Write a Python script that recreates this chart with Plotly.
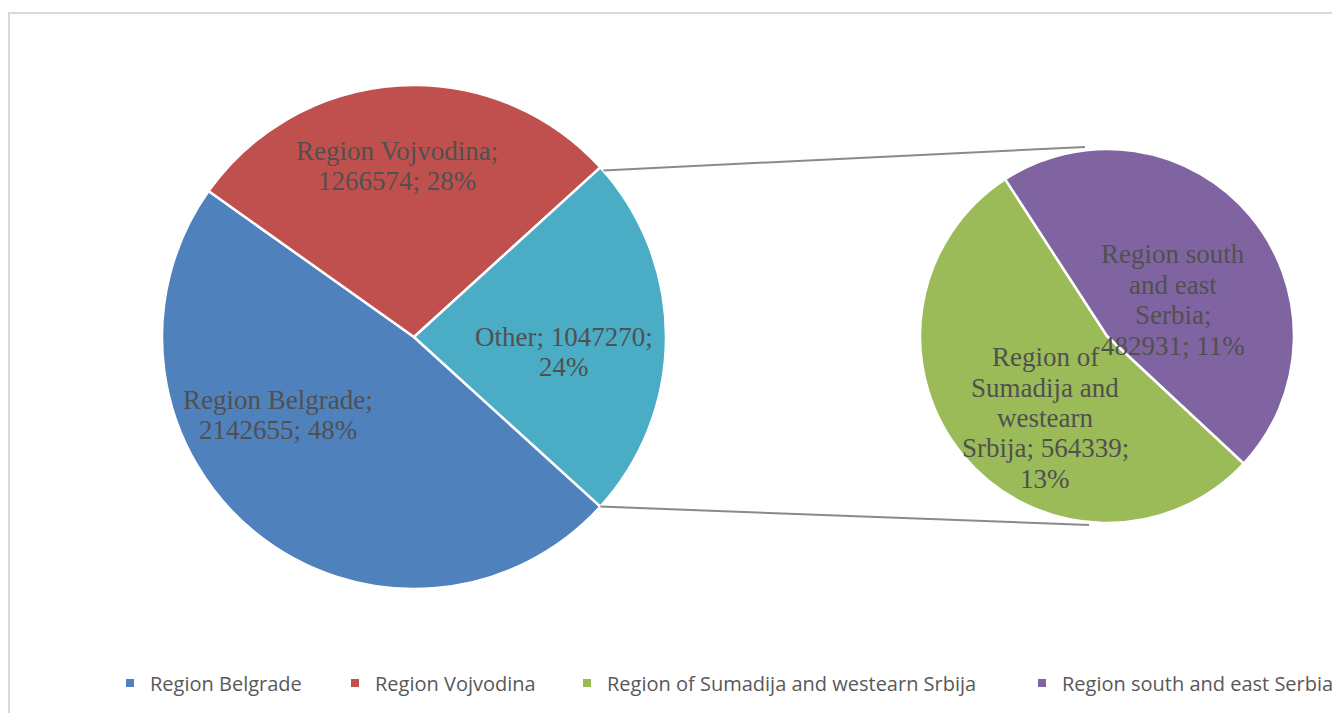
import math
import textwrap
import plotly.graph_objects as go

# ---------------- data ----------------
main_labels = ["Region Belgrade", "Region Vojvodina", "Other"]
main_values = [2142655, 1266574, 1047270]
main_pct = [48, 28, 24]

sec_labels = ["Region of Sumadija and westearn Srbija", "Region south and east Serbia"]
sec_values = [564339, 482931]
sec_pct = [13, 11]

legend_labels = ["Region Belgrade", "Region Vojvodina",
                 "Region of Sumadija and westearn Srbija", "Region south and east Serbia"]

# ---------------- style ----------------
OFF_X, OFF_Y = 8, 8      # page margin around the plot div
W, H = 1340 - OFF_X, 713 - OFF_Y
main_colors = ["#4F81BD", "#C0504D", "#4BACC6"]
sec_colors = ["#9BBB59", "#8064A2"]
legend_colors = ["#4F81BD", "#C0504D", "#9BBB59", "#8064A2"]
label_color = "#505050"
serif = "Liberation Serif, Times New Roman, serif"
sans = "Open Sans, Arial, sans-serif"


def px_x(x):
    return (x - OFF_X) / W


def px_y(y):
    return 1 - (y - OFF_Y) / H


# pie geometry (screen pixels)
main_c, main_r = (414, 337), 252
sec_c, sec_r = (1107, 336), 187

total = sum(main_values)
other_frac = main_values[2] / total
main_rotation = 90 + other_frac * 180          # "Other" centred at 3 o'clock
sec_rotation = 133

fig = go.Figure()

fig.add_trace(go.Pie(
    labels=main_labels, values=main_values, sort=False, direction="clockwise",
    rotation=main_rotation, marker=dict(colors=main_colors, line=dict(color="white", width=2.5)),
    textinfo="none", showlegend=False,
    domain=dict(x=[px_x(main_c[0] - main_r), px_x(main_c[0] + main_r)],
                y=[px_y(main_c[1] + main_r), px_y(main_c[1] - main_r)]),
))
fig.add_trace(go.Pie(
    labels=sec_labels, values=sec_values, sort=False, direction="clockwise",
    rotation=sec_rotation, marker=dict(colors=sec_colors, line=dict(color="white", width=2.5)),
    textinfo="none", showlegend=False,
    domain=dict(x=[px_x(sec_c[0] - sec_r), px_x(sec_c[0] + sec_r)],
                y=[px_y(sec_c[1] + sec_r), px_y(sec_c[1] - sec_r)]),
))

# legend entries (each in its own legend to reproduce spacing)
legend_x = [131, 356, 588, 1043]
legend_ids = ["legend", "legend2", "legend3", "legend4"]
for name, col, lid in zip(legend_labels, legend_colors, legend_ids):
    fig.add_trace(go.Scatter(x=[None], y=[None], mode="markers", name=name,
                             marker=dict(symbol="square", size=8, color=col),
                             legend=lid, showlegend=True))

# data labels, one annotation per wrapped line
label_specs = [
    # label, value, pct, wrap width, centre px
    (main_labels[0], main_values[0], main_pct[0], 16, (278, 415)),
    (main_labels[1], main_values[1], main_pct[1], 17, (397, 166)),
    (main_labels[2], main_values[2], main_pct[2], 15, (564, 352)),
    (sec_labels[0], sec_values[0], sec_pct[0], 15, (1045, 418)),
    (sec_labels[1], sec_values[1], sec_pct[1], 12, (1173, 300)),
]
line_h = 30.5
annotations = []
for lab, val, pct, wrap, (cx, cy) in label_specs:
    lines = textwrap.wrap(f"{lab}; {val}; {pct}%", wrap)
    n = len(lines)
    for i, ln in enumerate(lines):
        yy = cy + (i - (n - 1) / 2) * line_h
        annotations.append(dict(text=ln, x=px_x(cx), y=px_y(yy), xref="paper", yref="paper",
                                xanchor="center", yanchor="middle", showarrow=False,
                                font=dict(family=serif, size=27, color=label_color)))

# connector lines from "Other" slice edges to secondary pie
a_top = math.radians(main_rotation - other_frac * 360)
a_bot = math.radians(main_rotation)
p_top = (main_c[0] + main_r * math.sin(a_top) + 3, main_c[1] - main_r * math.cos(a_top) + 3)
p_bot = (main_c[0] + main_r * math.sin(a_bot), main_c[1] - main_r * math.cos(a_bot))
q_top = (sec_c[0] - 22, sec_c[1] - sec_r - 2)
q_bot = (sec_c[0] - 18, sec_c[1] + sec_r + 2)

shapes = [
    dict(type="line", xref="paper", yref="paper", x0=px_x(p_top[0]), y0=px_y(p_top[1]),
         x1=px_x(q_top[0]), y1=px_y(q_top[1]), line=dict(color="#8A8A8A", width=2)),
    dict(type="line", xref="paper", yref="paper", x0=px_x(p_bot[0]), y0=px_y(p_bot[1]),
         x1=px_x(q_bot[0]), y1=px_y(q_bot[1]), line=dict(color="#8A8A8A", width=2)),
    dict(type="rect", xref="paper", yref="paper", x0=px_x(9), y0=px_y(760),
         x1=px_x(1400), y1=px_y(13), line=dict(color="#D9D9D9", width=2), layer="below"),
]

legend_common = dict(orientation="h", yanchor="middle", xanchor="left", y=px_y(683),
                     bgcolor="rgba(0,0,0,0)", borderwidth=0,
                     font=dict(family=sans, size=20, color="#595959"))
layout_legends = {}
for lid, lx in zip(legend_ids, legend_x):
    layout_legends[lid] = dict(legend_common, x=px_x(lx - 21))

fig.update_layout(
    width=W, height=H,
    margin=dict(l=0, r=0, t=0, b=0),
    paper_bgcolor="white", plot_bgcolor="white",
    xaxis=dict(visible=False), yaxis=dict(visible=False),
    annotations=annotations, shapes=shapes,
    **layout_legends,
)

fig.write_html("out.html")
